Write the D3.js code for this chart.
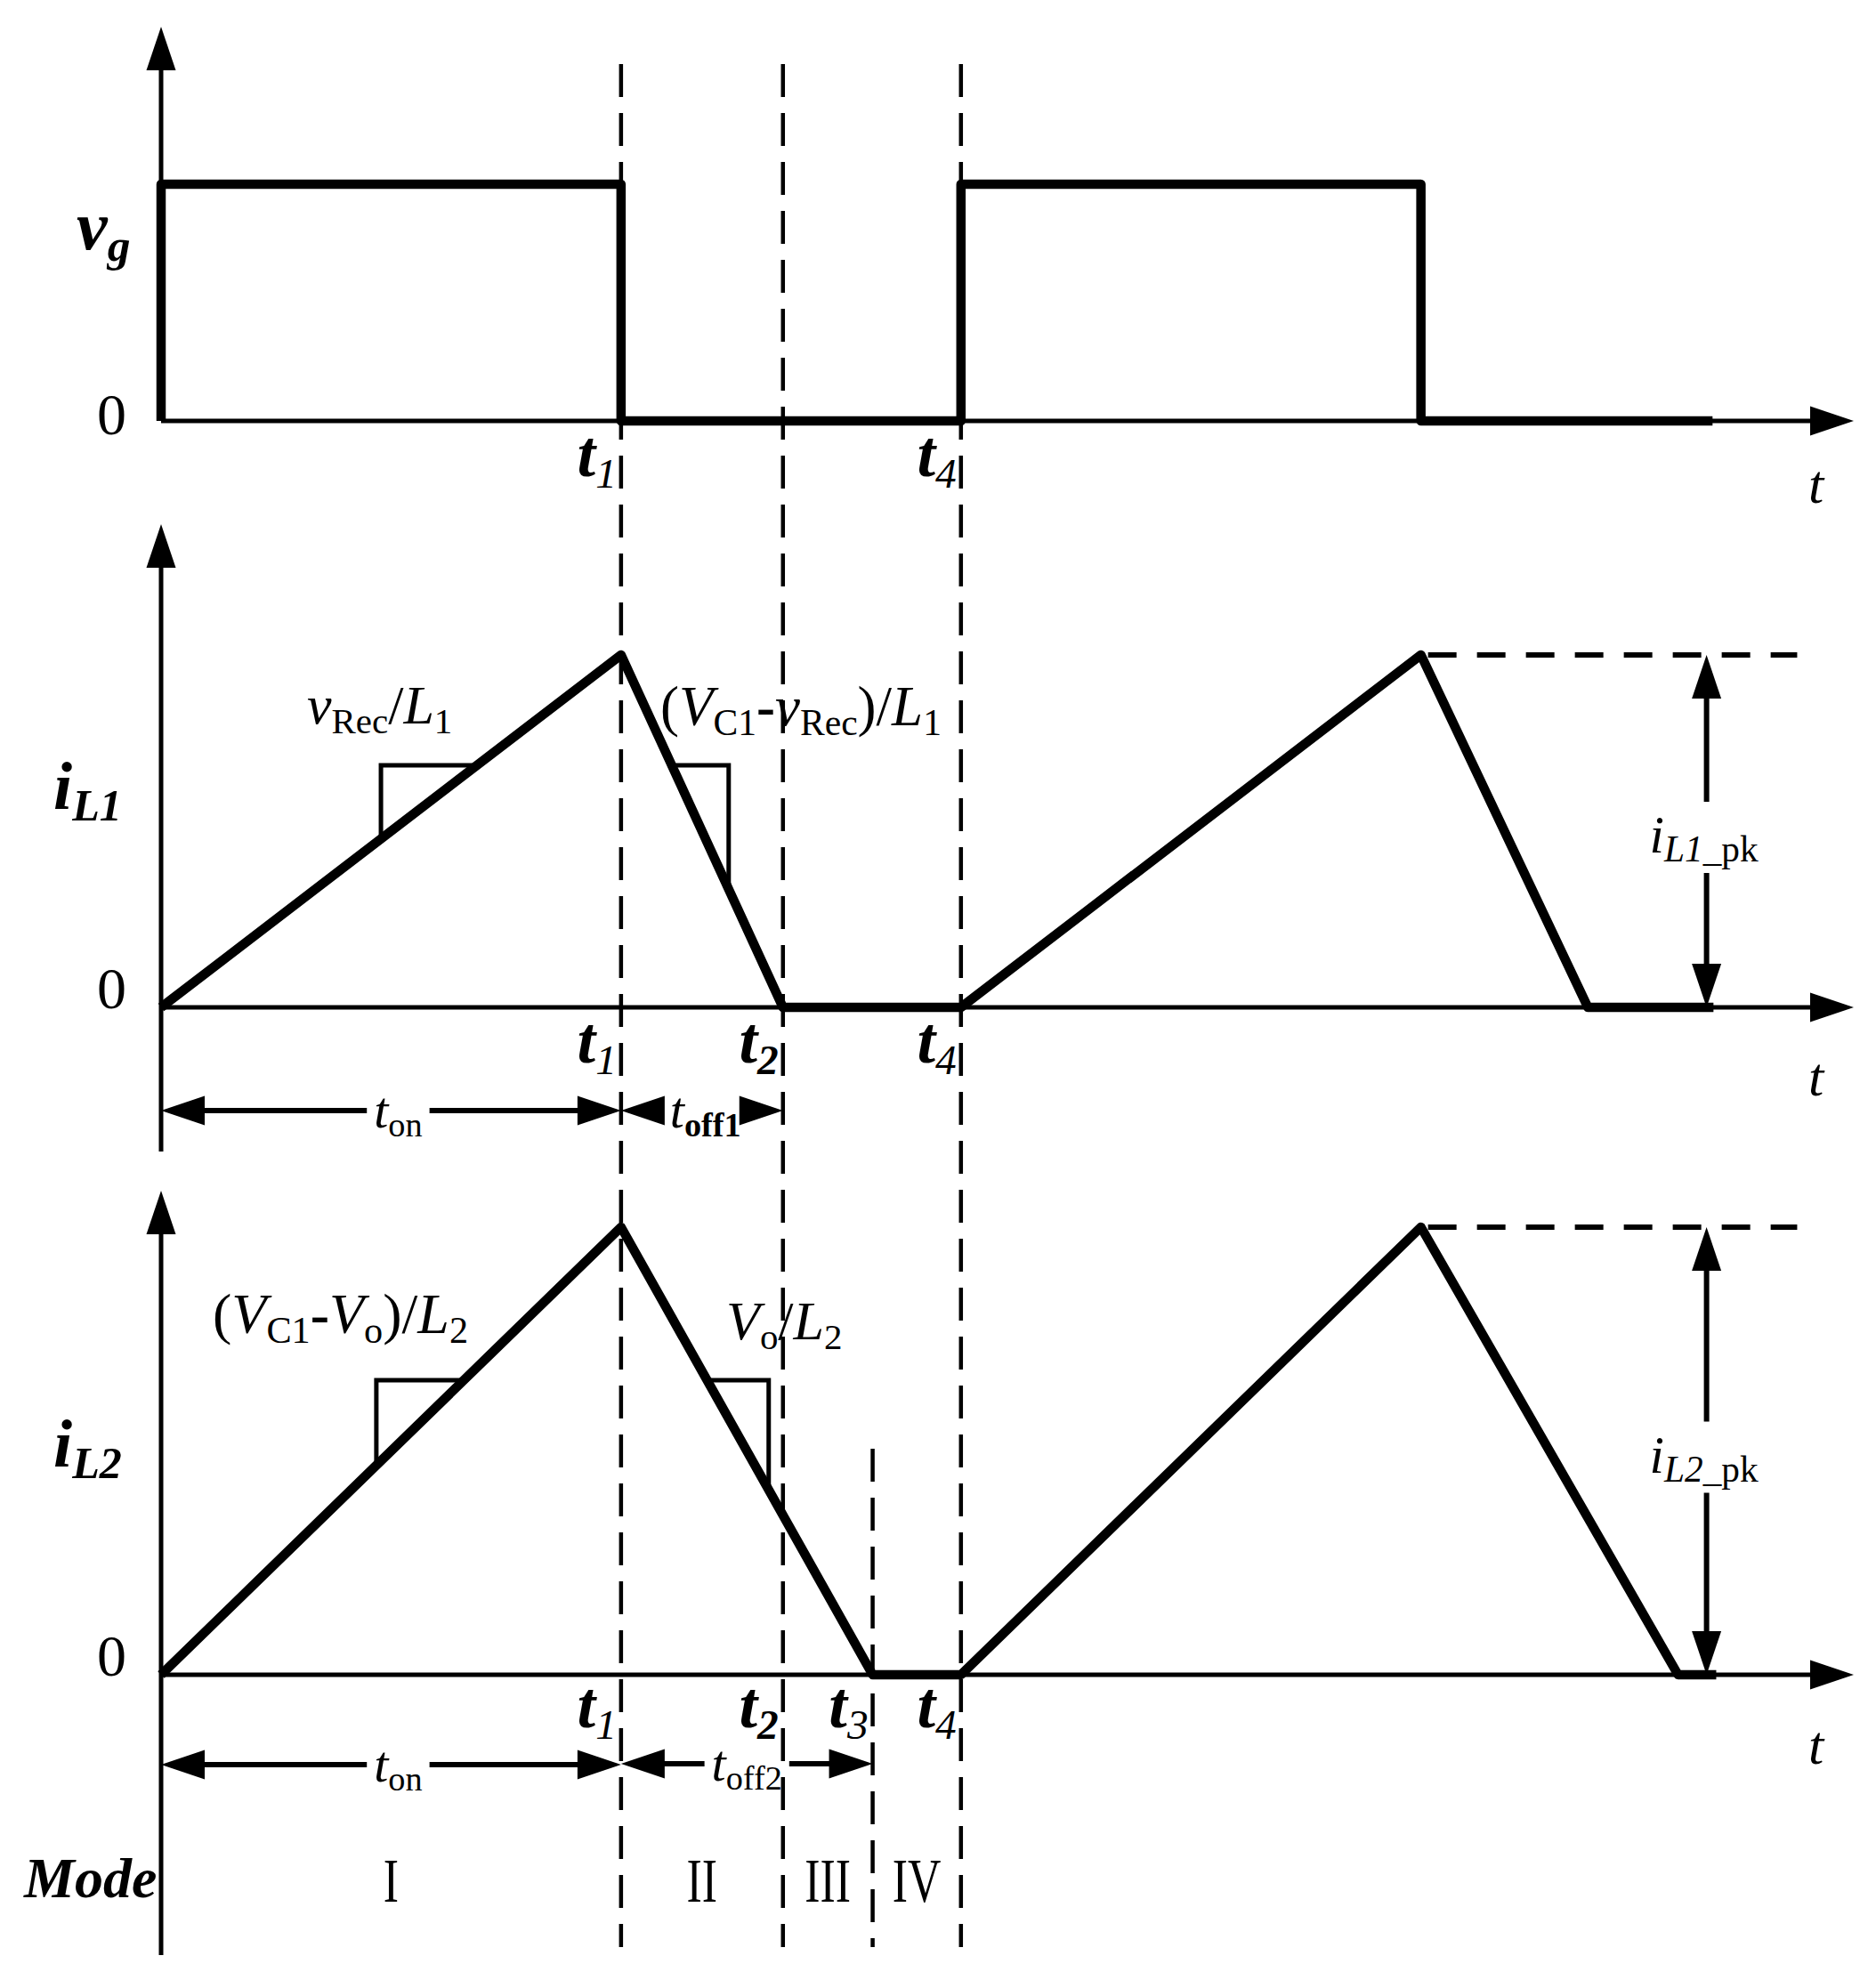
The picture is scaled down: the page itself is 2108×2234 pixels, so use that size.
<!DOCTYPE html>
<html lang="en">
<head>
<meta charset="UTF-8">
<title>Switching waveforms</title>
<script src="https://d3js.org/d3.v7.min.js"></script>
<style>
  body { margin: 0; background: #fff; }
  svg text { font-family: "Liberation Serif", "Times New Roman", serif; fill: #000; }
</style>
</head>
<body>
<svg width="2108" height="2234"></svg>
<script>
// time is measured in units of t_on
const edgeTimes = [1.0, 1.352, 1.547, 1.739];   // t1..t4
const edgeNames = ["1", "2", "3", "4"];
const tEnd = 3.68;

const vgTimes  = [0, 0, 1.0, 1.0, 1.739, 1.739, 2.739, 2.739, 3.373];
const vgValues = [0, 1, 1, 0, 0, 1, 1, 0, 0];

const iL1Times  = [0, 1.0, 1.352, 1.739, 2.739, 3.102, 3.375];
const iL1Values = [0, 1, 0, 0, 1, 0, 0];

const iL2Times  = [0, 1.0, 1.547, 1.739, 2.739, 3.298, 3.381];
const iL2Values = [0, 1, 0, 0, 1, 0, 0];

const modeNames = ["I", "II", "III", "IV"];
const modeBounds = [0, 1.0, 1.352, 1.547, 1.739];

const svg = d3.select("svg");
const x = d3.scaleLinear().domain([0, tEnd]).range([181, 2083]);

const panels = [
  { name: "vg",  times: vgTimes,  values: vgValues,  y: d3.scaleLinear().domain([0, 1]).range([473, 207]),
    tipY: 30,   axisBottom: 473,  zeroLabelY: 488, edges: [0, 3],       edgeY: 535,  tY: 565 },
  { name: "iL1", times: iL1Times, values: iL1Values, y: d3.scaleLinear().domain([0, 1]).range([1132, 736]),
    tipY: 589,  axisBottom: 1294, zeroLabelY: 1133, edges: [0, 1, 3],  edgeY: 1194, tY: 1231 },
  { name: "iL2", times: iL2Times, values: iL2Values, y: d3.scaleLinear().domain([0, 1]).range([1882, 1379]),
    tipY: 1338, axisBottom: 2197, zeroLabelY: 1883, edges: [0, 1, 2, 3], edgeY: 1941, tY: 1982 }
];

const AL = 49, AW = 16.5;   // arrow head length / half width
function head(g, px, py, dir) {
  const pts = {
    up:    [[px, py], [px - AW, py + AL], [px + AW, py + AL]],
    down:  [[px, py], [px - AW, py - AL], [px + AW, py - AL]],
    left:  [[px, py], [px + AL, py - AW], [px + AL, py + AW]],
    right: [[px, py], [px - AL, py - AW], [px - AL, py + AW]]
  }[dir];
  g.append("path").attr("d", "M" + pts.join("L") + "Z").attr("fill", "#000");
}
function seg(g, x1, y1, x2, y2, w) {
  g.append("line").attr("x1", x1).attr("y1", y1).attr("x2", x2).attr("y2", y2)
    .attr("stroke", "#000").attr("stroke-width", w);
}
// text built from [string, style] runs; style: i italic, b bold, s subscript
function rich(g, px, py, runs, size, anchor, subRatio) {
  const r = subRatio || 0.66;
  const t = g.append("text").attr("x", px).attr("y", py).attr("font-size", size)
    .attr("text-anchor", anchor || "start");
  let sub = false;
  runs.forEach(([s, st]) => {
    const isSub = st.includes("s");
    const ts = t.append("tspan").text(s)
      .attr("font-style", st.includes("i") ? "italic" : "normal")
      .attr("font-weight", st.includes("b") ? "bold" : "normal");
    if (isSub) ts.attr("font-size", size * r);
    if (isSub !== sub) ts.attr("dy", isSub ? size * 0.17 : -size * 0.17);
    sub = isSub;
  });
  return t;
}

// dashed time markers
const dashG = svg.append("g");
edgeTimes.forEach((t, i) => {
  dashG.append("line")
    .attr("x1", x(t)).attr("x2", x(t))
    .attr("y1", i === 2 ? 1628 : 72).attr("y2", 2188)
    .attr("stroke", "#000").attr("stroke-width", 4.5)
    .attr("stroke-dasharray", "37 18");
});

panels.forEach(p => {
  const g = svg.append("g");
  const y0 = p.y(0);
  // axes
  seg(g, x(0), p.tipY + 10, x(0), p.axisBottom, 5);
  head(g, x(0), p.tipY, "up");
  seg(g, x(0), y0, x(tEnd) - 10, y0, 5);
  head(g, x(tEnd), y0, "right");

  // waveform
  const line = d3.line().x(d => x(d[0])).y(d => p.y(d[1]));
  g.append("path")
    .attr("d", line(d3.zip(p.times, p.values)))
    .attr("fill", "none").attr("stroke", "#000")
    .attr("stroke-width", 10.5).attr("stroke-linejoin", "round");

  g.append("text").attr("x", 142).attr("y", p.zeroLabelY)
    .attr("font-size", 66).attr("text-anchor", "end").text("0");
  g.append("text").attr("x", 2032).attr("y", p.tY)
    .attr("font-size", 62).attr("font-style", "italic").text("t");

  p.edges.forEach(k => {
    rich(g, x(edgeTimes[k]) - 5, p.edgeY, [["t", "bi"], [edgeNames[k], k === 1 ? "bis" : "is"]], 74, "end", 0.64);
  });
});

// axis names
rich(svg, 86, 280, [["v", "bi"], ["g", "bis"]], 78);
rich(svg, 60, 909, [["i", "bi"], ["L1", "bis"]], 76);
rich(svg, 60, 1648, [["i", "bi"], ["L2", "bis"]], 76);

// slope markers: vertical leg at time t, horizontal leg at level
const slopeMarks = [
  { p: 1, t: 0.478, level: 0.687, from: 0, to: 1 },
  { p: 1, t: 1.234, level: 0.687, from: 1, to: 2 },
  { p: 2, t: 0.468, level: 0.658, from: 0, to: 1 },
  { p: 2, t: 1.321, level: 0.658, from: 1, to: 2 }
];
slopeMarks.forEach(m => {
  const p = panels[m.p];
  const ta = p.times[m.from], tb = p.times[m.to], va = p.values[m.from], vb = p.values[m.to];
  const vAt = d3.scaleLinear().domain([ta, tb]).range([va, vb]);
  const tAt = d3.scaleLinear().domain([va, vb]).range([ta, tb]);
  const pts = [[m.t, vAt(m.t)], [m.t, m.level], [tAt(m.level), m.level]];
  svg.append("path")
    .attr("d", "M" + pts.map(d => [x(d[0]), p.y(d[1])]).join("L"))
    .attr("fill", "none").attr("stroke", "#000").attr("stroke-width", 5);
});

rich(svg, 345, 813, [["v", "i"], ["Rec", "s"], ["/", ""], ["L", "i"], ["1", "s"]], 62);
rich(svg, 742, 815, [["(", ""], ["V", "i"], ["C1", "s"], ["-", "b"], ["v", "i"], ["Rec", "s"],
  [")", ""], ["/", ""], ["L", "i"], ["1", "s"]], 63);
rich(svg, 239, 1498, [["(", ""], ["V", "i"], ["C1", "s"], ["-", "b"], ["V", "i"], ["o", "s"],
  [")", ""], ["/", ""], ["L", "i"], ["2", "s"]], 64);
rich(svg, 816, 1505, [["V", "i"], ["o", "s"], ["/", ""], ["L", "i"], ["2", "s"]], 62);

// peak markers
const peakMarks = [
  { p: 1, tPeak: 2.739, tLine: 3.557, tArrow: 3.36, runs: [["i", "i"], ["L1", "is"], ["_pk", "s"]] },
  { p: 2, tPeak: 2.739, tLine: 3.557, tArrow: 3.36, runs: [["i", "i"], ["L2", "is"], ["_pk", "s"]] }
];
peakMarks.forEach(m => {
  const p = panels[m.p];
  const yTop = p.y(1), yBot = p.y(0), ax = x(m.tArrow);
  svg.append("line").attr("x1", x(m.tPeak) + 8).attr("x2", x(m.tLine))
    .attr("y1", yTop).attr("y2", yTop)
    .attr("stroke", "#000").attr("stroke-width", 6).attr("stroke-dasharray", "32 23");
  const mid = (yTop + yBot) / 2 + 17;
  const lab = rich(svg, ax - 64, mid + 7, m.runs, 59, "start", 0.7);
  const bb = lab.node().getBBox();
  seg(svg, ax, yTop + 20, ax, bb.y - 4, 6);
  seg(svg, ax, bb.y + bb.height + 4, ax, yBot - 20, 6);
  head(svg, ax, yTop, "up");
  head(svg, ax, yBot, "down");
});

// duration arrows
const durations = [
  { p: 1, from: 0, to: 1.0,   y: 1248, cx: 8,  runs: [["t", "i"], ["on", "s"]] },
  { p: 1, from: 1.0, to: 1.352, y: 1248, cx: 4, runs: [["t", "i"], ["off1", "bs"]] },
  { p: 2, from: 0, to: 1.0,   y: 1983, cx: 8,  runs: [["t", "i"], ["on", "s"]] },
  { p: 2, from: 1.0, to: 1.547, y: 1982, cx: 0, runs: [["t", "i"], ["off2", "s"]] }
];
durations.forEach(d => {
  const xa = x(d.from), xb = x(d.to);
  const lab = rich(svg, (xa + xb) / 2 + d.cx, d.y + 19, d.runs, 58, "middle");
  const bb = lab.node().getBBox();
  if (bb.x - 6 > xa + AL) seg(svg, xa + 10, d.y, bb.x - 8, d.y, 6);
  if (bb.x + bb.width + 8 < xb - AL) seg(svg, bb.x + bb.width + 8, d.y, xb - 10, d.y, 6);
  head(svg, xa, d.y, "left");
  head(svg, xb, d.y, "right");
});

// operating modes
rich(svg, 27, 2132, [["Mode", "bi"]], 64);
modeNames.forEach((m, i) => {
  const cx = x((modeBounds[i] + modeBounds[i + 1]) / 2);
  svg.append("g").attr("transform", `translate(${cx},2137) scale(0.74,1)`)
    .append("text").attr("text-anchor", "middle").attr("font-size", 70).text(m);
});
</script>
</body>
</html>
